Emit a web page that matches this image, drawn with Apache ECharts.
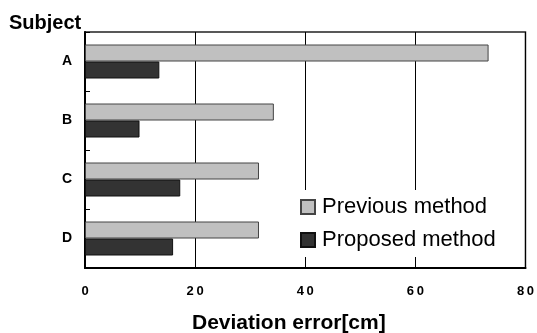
<!DOCTYPE html>
<html>
<head>
<meta charset="utf-8">
<script src="https://cdn.jsdelivr.net/npm/echarts@6/dist/echarts.min.js"></script>
<style>html,body{margin:0;padding:0;background:#fff;}#c{width:537px;height:333px;}</style>
</head>
<body>
<div id="c"></div>
<script>
const categories = ['A', 'B', 'C', 'D'];
const previousMethod = [73.3, 34.3, 31.6, 31.6];
const proposedMethod = [13.5, 9.9, 17.3, 16.0];
const xTicks = [0, 20, 40, 60, 80];

const chart = echarts.init(document.getElementById('c'), null, {renderer: 'canvas'});
const font = "'Liberation Sans', Arial, sans-serif";
chart.setOption({
  animation: false,
  backgroundColor: '#fff',
  textStyle: {fontFamily: font},
  grid: {left: 85, right: 11, top: 32, bottom: 65, show: true, borderColor: '#222', borderWidth: 1.5},
  xAxis: {
    type: 'value', min: xTicks[0], max: xTicks[xTicks.length - 1], interval: 20,
    axisLine: {show: true, lineStyle: {color: '#000', width: 2}},
    axisTick: {show: true, inside: true, length: 5, lineStyle: {color: '#000'}},
    axisLabel: {color: '#000', fontWeight: 'bold', fontSize: 13, fontFamily: font, margin: 17,
      formatter: v => String(v).split('').join('\u2009')},
    splitLine: {show: true, lineStyle: {color: '#000', width: 1}}
  },
  yAxis: {
    type: 'category', data: categories, inverse: true,
    axisLine: {show: true, lineStyle: {color: '#000', width: 2}},
    axisTick: {show: true, inside: true, length: 5, lineStyle: {color: '#000'}},
    axisLabel: {color: '#000', fontWeight: 'bold', fontSize: 14, fontFamily: font, margin: 13}
  },
  legend: {
    orient: 'vertical', left: 294, top: 190,
    backgroundColor: '#fff', padding: [6, 6, 6, 6],
    itemWidth: 14, itemHeight: 14, itemGap: 11, icon: 'rect',
    textStyle: {fontSize: 22, color: '#000', fontFamily: font, padding: [0, 0, 0, 2]},
    data: ['Previous method', 'Proposed method']
  },
  graphic: [
    {type: 'text', left: 9, top: 13, style: {text: 'Subject', font: 'bold 20px ' + font, fill: '#000'}},
    {type: 'text', left: 192, top: 313, style: {text: 'Deviation error[cm]', font: 'bold 21px ' + font, fill: '#000'}}
  ],
  series: [
    {name: 'Previous method', type: 'bar', data: previousMethod, barWidth: 17, barGap: '0%',
      itemStyle: {color: '#c0c0c0', borderColor: '#444', borderWidth: 1}},
    {name: 'Proposed method', type: 'bar', data: proposedMethod, barWidth: 17, barGap: '0%',
      itemStyle: {color: '#333333', borderColor: '#111', borderWidth: 1}}
  ]
});
</script>
</body>
</html>
